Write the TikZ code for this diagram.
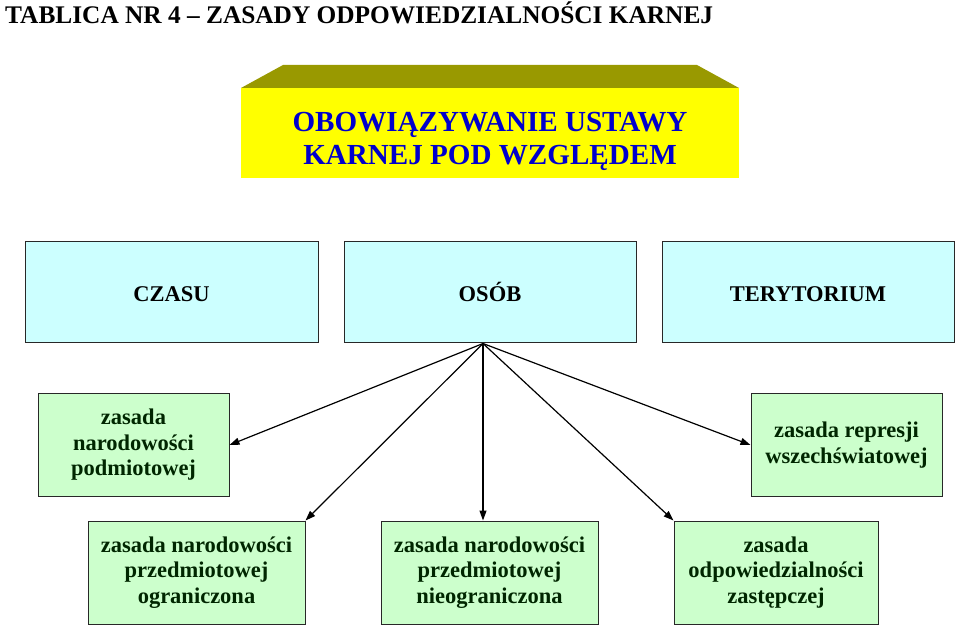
\documentclass[tikz,border=0pt]{standalone}
\usepackage{fontspec}
\setmainfont{Liberation Serif}[BoldFont={Liberation Serif Bold},ItalicFont={Liberation Serif Italic}]
\usetikzlibrary{arrows.meta,calc}
\definecolor{cyanbox}{RGB}{204,255,255}
\definecolor{greenbox}{RGB}{204,255,204}
\definecolor{ylw}{RGB}{255,255,0}
\definecolor{olive}{RGB}{153,153,0}
\definecolor{headblue}{RGB}{0,0,204}
\definecolor{dgreen}{RGB}{0,38,0}
\definecolor{edge}{RGB}{40,40,40}
\tikzset{
  cbox/.style={draw=edge, line width=1pt, fill=cyanbox, minimum height=101pt, inner sep=0pt,
    text height=20pt, text depth=1pt,
    font=\fontsize{22.5}{25.5}\selectfont\bfseries, text=black},
  gbox/.style={draw=edge, line width=1pt, fill=greenbox, inner sep=0pt, align=center,
    font=\fontsize{22.5}{25.5}\selectfont\bfseries, text=dgreen,
    execute at begin node={\rule{0pt}{26pt}}},
  arr/.style={line width=1.2pt, -{Triangle[length=10pt,width=7pt]}}
}
\begin{document}
\begin{tikzpicture}[x=1pt,y=-1pt]
\useasboundingbox (0,0) rectangle (959,628);
% title
\node[anchor=base west, inner sep=0pt, font=\fontsize{25.35}{30}\selectfont\bfseries] (title) at (5,24)
  {TABLICA NR 4 – ZASADY ODPOWIEDZIALNOŚCI KARNEJ};
% yellow 3D box
\fill[olive] (241,88) -- (283,65) -- (697,65) -- (739,88) -- cycle;
\node[fill=ylw, minimum width=498pt, minimum height=90pt, inner sep=0pt] (head) at (490,133) {};
\node[inner sep=0pt, align=center, font=\fontsize{29.1}{33}\selectfont\bfseries, text=headblue]
  (headtxt) at (490,141) {OBOWIĄZYWANIE USTAWY\\KARNEJ POD WZGLĘDEM};
% second row
\node[cbox, minimum width=293pt] (czasu) at (171.5,292.5) {CZASU};
\node[cbox, minimum width=292pt] (osob) at (490,292.5) {OSÓB};
\node[cbox, minimum width=292pt] (ter) at (808,292.5) {TERYTORIUM};
% third row
\node[gbox, minimum width=191pt, minimum height=102pt] (lg) at (133.5,445)
  {zasada\\narodowości\\podmiotowej};
\node[gbox, minimum width=191pt, minimum height=102pt] (rg) at (846.5,445)
  {zasada represji\\wszechświatowej};
% bottom row
\node[gbox, minimum width=217pt, minimum height=103pt] (bl) at (196.5,572.5)
  {zasada narodowości\\przedmiotowej\\ograniczona};
\node[gbox, minimum width=217pt, minimum height=103pt] (bm) at (489.5,572.5)
  {zasada narodowości\\przedmiotowej\\nieograniczona};
\node[gbox, minimum width=204pt, minimum height=103pt] (br) at (776,572.5)
  {zasada\\odpowiedzialności\\zastępczej};
% connectors
\coordinate (apex) at ($(osob.south)+(-7,0)$);
\draw[arr] (apex) -- (lg.east);
\draw[arr] (apex) -- (bl.north east);
\draw[arr] (apex) -- (bm.north -| apex);
\draw[arr] (apex) -- (br.north west);
\draw[arr] (apex) -- (rg.west);
\end{tikzpicture}
\end{document}
